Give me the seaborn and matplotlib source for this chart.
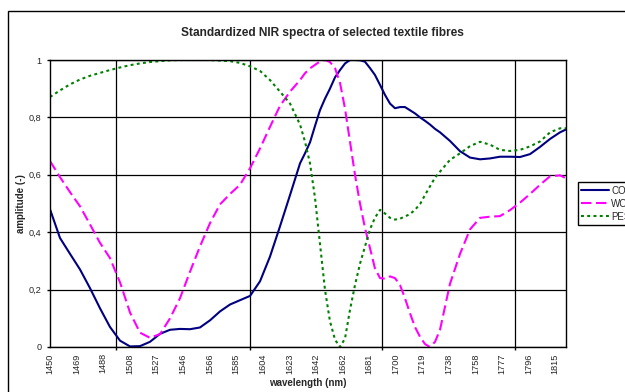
import matplotlib
matplotlib.use("Agg")
import matplotlib.pyplot as plt
from matplotlib.patches import Rectangle
import seaborn as sns
import pandas as pd

# wavelength (nm) of read-off points
wavelength = [1450.0, 1457.2, 1464.4, 1471.7, 1478.9, 1486.1, 1493.3, 1500.6, 1507.8, 1515.0,
              1522.2, 1529.5, 1536.7, 1543.9, 1551.1, 1558.3, 1565.6, 1572.8, 1580.0, 1587.2,
              1594.5, 1601.7, 1608.9, 1616.1, 1623.4, 1630.6, 1634.2, 1637.8, 1641.4, 1645.0,
              1648.6, 1652.2, 1655.9, 1659.5, 1663.1, 1666.7, 1670.3, 1673.9, 1677.5, 1681.1,
              1684.7, 1688.4, 1692.0, 1695.6, 1699.2, 1702.8, 1706.4, 1710.0, 1713.6, 1717.3,
              1720.9, 1724.5, 1728.1, 1731.7, 1738.9, 1746.2, 1753.4, 1760.6, 1767.8, 1775.0,
              1782.3, 1789.5, 1796.7, 1803.9, 1811.2, 1818.4, 1822.7]

co = [0.48, 0.38, 0.325, 0.27, 0.205, 0.135, 0.07, 0.022, 0.002, 0.003,
      0.018, 0.046, 0.06, 0.063, 0.062, 0.068, 0.093, 0.124, 0.148, 0.163,
      0.178, 0.229, 0.315, 0.42, 0.53, 0.64, 0.675, 0.713, 0.77, 0.825,
      0.865, 0.9, 0.94, 0.965, 0.988, 1.0, 1.0, 0.999, 0.994, 0.972,
      0.948, 0.913, 0.878, 0.848, 0.832, 0.836, 0.836, 0.825, 0.814, 0.8,
      0.788, 0.775, 0.76, 0.748, 0.718, 0.682, 0.66, 0.654, 0.657, 0.663,
      0.663, 0.662, 0.672, 0.697, 0.725, 0.748, 0.758]

wo = [0.648, 0.592, 0.54, 0.49, 0.427, 0.363, 0.31, 0.225, 0.12, 0.05,
      0.032, 0.045, 0.1, 0.17, 0.262, 0.35, 0.432, 0.497, 0.533, 0.565,
      0.623, 0.692, 0.767, 0.84, 0.89, 0.93, 0.954, 0.971, 0.983, 0.995,
      1.0, 0.993, 0.971, 0.92, 0.83, 0.715, 0.6, 0.5, 0.415, 0.345,
      0.274, 0.24, 0.238, 0.246, 0.24, 0.216, 0.17, 0.118, 0.07, 0.035,
      0.01, 0.0, 0.018, 0.06, 0.22, 0.325, 0.41, 0.45, 0.454, 0.456,
      0.477, 0.503, 0.533, 0.565, 0.595, 0.598, 0.588]

pes = [0.871, 0.894, 0.915, 0.932, 0.945, 0.955, 0.965, 0.974, 0.982, 0.988,
       0.993, 0.996, 0.999, 1.0, 1.0, 1.0, 1.0, 0.998, 0.996, 0.99,
       0.978, 0.962, 0.93, 0.89, 0.848, 0.775, 0.715, 0.64, 0.52, 0.36,
       0.2, 0.09, 0.025, 0.0, 0.03, 0.13, 0.216, 0.29, 0.35, 0.41,
       0.45, 0.478, 0.465, 0.45, 0.444, 0.447, 0.455, 0.463, 0.478, 0.498,
       0.53, 0.56, 0.59, 0.611, 0.652, 0.675, 0.7, 0.715, 0.705, 0.687,
       0.683, 0.687, 0.699, 0.716, 0.748, 0.762, 0.762]

series_names = ["CO", "WO", "PES"]
tick_labels = ["1450", "1469", "1488", "1508", "1527", "1546", "1566", "1585", "1604", "1623",
               "1642", "1662", "1681", "1700", "1719", "1738", "1758", "1777", "1796", "1815"]
tick_positions = [1450.0, 1469.2, 1488.4, 1507.6, 1526.8, 1546.0, 1565.3, 1584.5, 1603.7, 1622.9,
                  1642.1, 1661.3, 1680.5, 1699.7, 1718.9, 1738.2, 1757.4, 1776.6, 1795.8, 1815.0]
grid_positions = [1450.0, 1498.0, 1546.0, 1594.1, 1642.1, 1690.1, 1738.2, 1786.2]
y_ticks = [0, 0.2, 0.4, 0.6, 0.8, 1.0]
y_labels = ["0", "0,2", "0,4", "0,6", "0,8", "1"]

sns.set_theme(style="white")
plt.rcParams["font.family"] = ["Liberation Sans", "DejaVu Sans"]

fig = plt.figure(figsize=(6.25, 3.92), dpi=100)
W, H = 625, 392
ax = fig.add_axes([50 / W, (H - 347) / H, 516 / W, 287 / H])

styles = {
    "CO": dict(color="#000080", linestyle="-"),
    "WO": dict(color="#FF00FF", linestyle=(0, (5, 2.2))),
    "PES": dict(color="#008000", linestyle=(0, (1.4, 1.6))),
}
for name, vals in zip(series_names, [co, wo, pes]):
    df = pd.DataFrame({"wavelength": wavelength, "amplitude": vals})
    sns.lineplot(data=df, x="wavelength", y="amplitude", ax=ax, sort=False,
                 estimator=None, lw=1.5, label=name, **styles[name])

ax.set_xlim(1450, 1822.7)
ax.set_ylim(0, 1)
ax.set_xticks(tick_positions)
ax.set_xticklabels(tick_labels, rotation=90, fontsize=6.6)
ax.set_xticks(grid_positions, minor=True)
ax.set_yticks(y_ticks)
ax.set_yticklabels(y_labels, fontsize=6.6)
ax.tick_params(axis="x", which="major", length=0, pad=4.5)
ax.tick_params(axis="x", which="minor", length=2.5, width=1, color="black", direction="out", bottom=True)
ax.tick_params(axis="y", which="major", length=2.5, width=1, color="black", direction="out", left=True, pad=3.5)
ax.grid(False)
ax.grid(True, axis="x", which="minor", color="black", lw=0.9)
ax.grid(True, axis="y", which="major", color="black", lw=0.9)
for s in ax.spines.values():
    s.set_color("black")
    s.set_linewidth(1)

ax.set_xlabel("wavelength (nm)", fontsize=7, fontweight="bold", labelpad=3)
ax.set_ylabel("amplitude (-)", fontsize=7, fontweight="bold", labelpad=2)

fig.text(322 / W, (H - 33) / H, "Standardized NIR spectra of selected textile fibres",
         ha="center", va="center", fontsize=8.6, fontweight="bold")

leg = ax.legend(loc="upper left", bbox_to_anchor=(577.5 / W, (H - 182.5) / H),
                bbox_transform=fig.transFigure, fontsize=7, frameon=True, fancybox=False,
                edgecolor="black", framealpha=1, handlelength=2.9, labelspacing=0.3,
                borderpad=0.35, handletextpad=0.2, borderaxespad=0)
leg.get_frame().set_linewidth(1)

fig.patches.append(Rectangle((7.5 / W, -0.05), 1.0, (H - 11) / H + 0.05,
                             transform=fig.transFigure, fill=False, ec="black", lw=1))

fig.savefig("out.png", dpi=100)
